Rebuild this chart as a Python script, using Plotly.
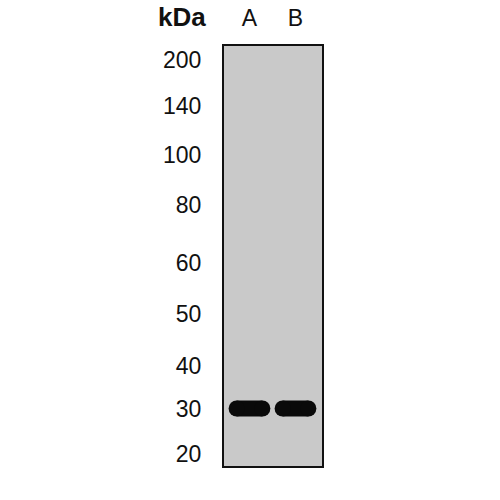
import plotly.graph_objects as go

# ladder (kDa) and where each marker ran, distance from the top of the membrane
marker_kda = [200, 140, 100, 80, 60, 50, 40, 30, 20]
marker_migration = [14, 60, 109, 159, 217, 268, 320, 363, 408]

# sample lanes and the band seen in each
lanes = ["A", "B"]
lane_pos = [0, 1]
band_migration = [362.5, 362.5]

MEMBRANE_LEN = 420
BAND_HALF = 0.28
BAND_THICK = 16
FONT = "Liberation Sans, Arial, sans-serif"

fig = go.Figure()

for pos, mig in zip(lane_pos, band_migration):
    fig.add_trace(
        go.Scatter(
            x=[pos - BAND_HALF, pos + BAND_HALF],
            y=[mig, mig],
            mode="lines+markers",
            line=dict(color="#0a0a0a", width=BAND_THICK),
            marker=dict(color="#0a0a0a", size=BAND_THICK, line=dict(width=0)),
            hoverinfo="skip",
            showlegend=False,
        )
    )

axis_common = dict(
    ticks="",
    tickfont=dict(family=FONT, size=23, color="#111111"),
    showgrid=False,
    zeroline=False,
    showline=True,
    linecolor="#111111",
    linewidth=2,
    mirror=True,
    fixedrange=True,
    automargin=False,
)

fig.update_layout(
    width=500,
    height=500,
    margin=dict(l=224, r=178, t=46, b=34),
    paper_bgcolor="white",
    plot_bgcolor="#c9c9c9",
    showlegend=False,
    xaxis=dict(
        range=[-0.554, 1.576],
        side="top",
        tickvals=lane_pos,
        ticktext=lanes,
        ticklabelstandoff=9,
        **axis_common,
    ),
    yaxis=dict(
        range=[MEMBRANE_LEN, 0],
        tickvals=marker_migration,
        ticktext=[str(k) for k in marker_kda],
        ticklabelstandoff=16,
        **axis_common,
    ),
    annotations=[
        dict(
            text="<b>kDa</b>",
            xref="paper",
            yref="paper",
            x=0,
            y=1,
            xanchor="right",
            yanchor="bottom",
            xshift=-16,
            yshift=12,
            showarrow=False,
            font=dict(family=FONT, size=26, color="#111111"),
        )
    ],
)

fig.write_html(
    "out.html",
    config={"displayModeBar": False},
    post_script="document.body.style.margin='0';",
)
